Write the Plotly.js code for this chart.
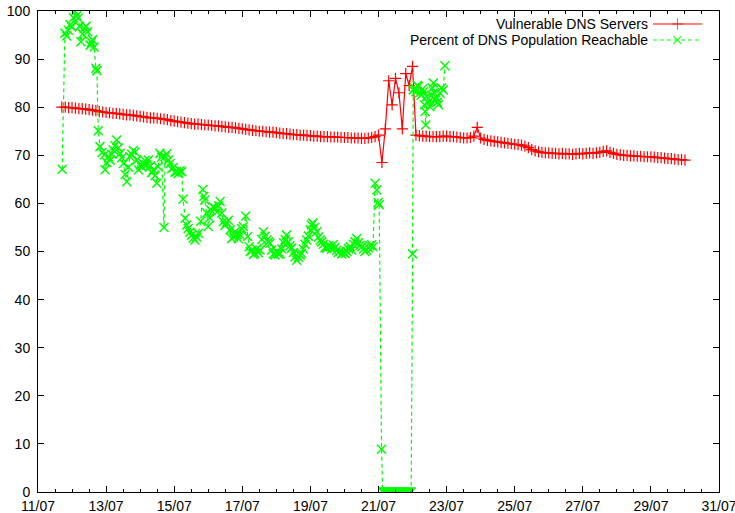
<!DOCTYPE html>
<html><head><meta charset="utf-8">
<script src="https://cdn.plot.ly/plotly-3.0.1.min.js"></script>
<style>html,body{margin:0;padding:0;background:#fff}</style>
</head><body>
<div id="chart" style="width:735px;height:513px"></div>
<script>
// X axis: day of July (fractional)
const tickDays = [11,13,15,17,19,21,23,25,27,29,31];
const tickLabels = ["11/07","13/07","15/07","17/07","19/07","21/07","23/07","25/07","27/07","29/07","31/07"];

// Vulnerable DNS Servers: sampled every 0.1 day starting 11.7
const redStart = 11.7, redStep = 0.1;
const redY = [
 80.0,80.0,79.9,79.9,
 79.8,79.7,79.7,79.6,79.5,79.4,79.3,79.1,79.0,78.9,
 78.8,78.7,78.7,78.6,78.5,78.4,78.4,78.3,78.2,78.1,
 78.0,77.9,77.8,77.8,77.7,77.6,77.5,77.4,77.2,77.1,
 77.0,76.9,76.8,76.7,76.6,76.5,76.5,76.4,76.3,76.3,
 76.2,76.1,76.1,76.0,75.9,75.8,75.8,75.7,75.6,75.5,
 75.4,75.3,75.2,75.1,75.0,75.0,74.9,74.8,74.8,74.7,
 74.6,74.5,74.5,74.4,74.3,74.3,74.2,74.2,74.1,74.1,
 74.0,74.0,73.9,73.9,73.9,73.8,73.8,73.8,73.7,73.7,
 73.7,73.6,73.6,73.6,73.5,73.5,73.6,73.7,73.9,74.2,
 68.5,75.5,85.5,80.5,86.0,83.0,75.5,87.0,84.5,88.5,
 74.2,74.1,74.0,74.0,73.9,73.9,73.9,73.9,74.0,74.0,
 73.9,73.9,73.8,73.7,73.6,73.6,73.7,74.0,75.8,73.6,
 73.3,73.1,73.0,72.9,72.8,72.7,72.6,72.5,72.4,72.3,
 72.2,72.1,71.9,71.6,71.2,70.9,70.7,70.6,70.5,70.5,
 70.4,70.4,70.3,70.4,70.3,70.3,70.2,70.3,70.4,70.3,
 70.4,70.5,70.4,70.5,70.6,70.8,70.9,70.6,70.4,70.2,
 70.1,70.0,70.0,69.9,69.9,69.8,69.8,69.7,69.7,69.7,
 69.6,69.5,69.5,69.4,69.3,69.3,69.2,69.1,69.1,69.0
];
const redX = redY.map((_, i) => +(redStart + i * redStep).toFixed(2));

// Percent of DNS Population Reachable
const greenX = [
 11.71,11.79,11.84,11.89,11.94,11.99,12.04,12.09,12.14,12.18,12.22,12.26,12.31,12.36,12.41,12.46,
 12.53,12.57,12.60,12.65,12.70,12.73,12.77,12.82,12.88,12.95,12.97,13.02,13.07,13.12,13.17,13.21,
 13.26,13.31,13.36,13.41,13.46,13.51,13.56,13.61,13.66,13.70,13.75,13.80,13.85,13.90,13.95,14.00,
 14.05,14.09,14.14,14.19,14.24,14.30,14.34,14.39,14.44,14.49,14.53,14.58,14.63,14.70,14.73,14.78,
 14.83,14.88,14.92,14.97,15.02,15.07,15.12,15.17,15.22,15.26,15.32,15.37,15.41,15.46,15.51,15.56,
 15.61,15.66,15.71,15.78,15.84,15.87,15.90,15.95,16.00,16.04,16.08,16.14,16.20,16.25,16.30,16.35,
 16.40,16.44,16.49,16.54,16.59,16.64,16.69,16.74,16.79,16.84,16.88,16.93,16.98,17.03,17.10,17.16,
 17.20,17.23,17.28,17.33,17.37,17.42,17.47,17.52,17.57,17.62,17.67,17.72,17.77,17.81,17.86,17.91,
 17.96,18.01,18.06,18.11,18.16,18.21,18.26,18.30,18.35,18.40,18.45,18.50,18.55,18.60,18.65,18.70,
 18.74,18.79,18.84,18.89,18.94,19.00,19.03,19.07,19.12,19.19,19.24,19.29,19.33,19.38,19.43,19.48,
 19.53,19.58,19.62,19.67,19.72,19.77,19.82,19.87,19.92,19.97,20.02,20.07,20.12,20.17,20.21,20.26,
 20.31,20.36,20.41,20.46,20.51,20.56,20.60,20.65,20.70,20.75,20.80,20.84,20.90,20.95,20.99,21.02,
 21.09,
 21.12,21.15,21.18,21.21,21.24,21.27,21.30,21.33,21.36,21.39,21.42,21.45,21.48,21.51,21.54,21.57,
 21.60,21.63,21.66,21.69,21.72,21.75,21.78,21.81,21.84,21.87,21.90,21.93,21.96,
 22.00,22.02,22.06,22.10,22.14,22.17,22.21,22.25,22.29,22.32,22.35,22.37,22.39,22.42,22.46,22.51,
 22.55,22.58,22.61,22.64,22.66,22.70,22.73,22.76,22.81,22.85,22.90,22.95
];
const greenY = [
 67.1,95.4,94.8,96.0,97.2,96.7,98.6,99.9,99.0,98.5,96.8,93.6,95.2,96.4,96.8,95.7,
 92.9,93.5,94.0,92.5,88.1,87.6,75.1,71.8,70.6,70.1,67.0,68.5,69.7,69.0,70.2,71.1,
 72.0,73.2,71.5,70.4,69.5,68.3,66.0,64.5,67.5,69.7,70.2,71.0,70.7,69.0,67.0,68.0,
 67.5,68.3,68.9,68.0,69.0,67.8,66.4,67.0,65.8,64.2,67.6,70.4,69.6,55.0,69.7,70.3,
 69.0,68.3,67.2,67.4,66.5,66.6,66.2,66.8,66.6,60.9,56.9,55.5,54.8,54.0,53.4,52.8,
 52.4,53.0,53.8,56.3,62.9,61.5,60.7,58.0,55.2,57.0,58.6,59.3,59.0,58.2,59.5,60.4,
 58.0,56.2,55.4,56.0,56.5,54.5,52.7,53.0,54.1,53.5,52.7,53.5,54.8,55.2,57.4,53.1,
 51.0,50.0,50.2,49.4,49.6,50.5,49.8,50.3,52.5,54.1,53.2,52.4,52.0,51.7,50.3,49.5,
 49.3,50.0,49.5,49.6,50.5,51.8,52.5,53.4,52.0,51.2,50.7,49.8,48.9,48.2,48.8,49.3,
 49.6,50.5,51.5,52.4,53.2,54.5,55.5,55.9,55.0,54.1,53.0,52.4,52.0,51.5,50.8,50.7,
 51.2,51.0,50.5,51.4,50.8,50.2,49.8,50.0,49.5,49.8,49.6,50.0,50.6,51.0,50.3,51.5,
 52.0,52.7,51.8,51.3,51.0,50.5,50.0,50.3,50.8,51.2,51.4,51.0,64.2,62.8,60.2,59.7,
 8.9,
 0,0,0,0,0,0,0,0,0,0,0,0,0,0,0,0,
 0,0,0,0,0,0,0,0,0,0,0,0,0,
 49.5,83.6,84.0,83.2,84.5,84.3,83.0,82.5,83.8,83.2,80.5,79.1,76.3,82.2,81.0,80.1,
 82.5,84.0,85.0,83.0,81.5,82.0,81.0,80.5,82.9,84.0,83.6,88.6
];

const legendNames = ["Vulnerable DNS Servers", "Percent of DNS Population Reachable"];
const RED = "#ff0000", GREEN = "#00ff00";
const font = "Liberation Sans, Arial, Helvetica, sans-serif";

const traces = [
 {x: redX, y: redY, type: "scatter", mode: "lines+markers", name: legendNames[0], showlegend: false,
  line: {color: RED, width: 1.2},
  marker: {symbol: "cross-thin", size: 8, color: RED, line: {color: RED, width: 1.2}}},
 {x: greenX, y: greenY, type: "scatter", mode: "lines+markers", name: legendNames[1], showlegend: false,
  line: {color: GREEN, width: 1.2, dash: "4px,3px"},
  marker: {symbol: "x-thin", size: 9, color: GREEN, line: {color: GREEN, width: 1.5}}},
 // legend samples (drawn gnuplot-style: text left, sample right)
 {x: [0.903, 0.939, 0.975], y: [0.973, 0.973, 0.973], xaxis: "x2", yaxis: "y2", type: "scatter",
  mode: "lines+markers", showlegend: false, hoverinfo: "skip", cliponaxis: false,
  line: {color: RED, width: 1},
  marker: {symbol: "cross-thin", size: [0, 8, 0], color: RED, line: {color: RED, width: 1}}},
 {x: [0.903, 0.939, 0.975], y: [0.9397, 0.9397, 0.9397], xaxis: "x2", yaxis: "y2", type: "scatter",
  mode: "lines+markers", showlegend: false, hoverinfo: "skip", cliponaxis: false,
  line: {color: GREEN, width: 1, dash: "4px,3px"},
  marker: {symbol: "x-thin", size: [0, 8, 0], color: GREEN, line: {color: GREEN, width: 1.5}}}
];

const layout = {
 width: 735, height: 513,
 margin: {l: 38, r: 16, t: 11, b: 21, pad: 0},
 paper_bgcolor: "#fff", plot_bgcolor: "#fff",
 showlegend: false,
 font: {family: font, size: 14, color: "#000"},
 xaxis: {
  range: [11, 31], tickmode: "array", tickvals: tickDays, ticktext: tickLabels,
  ticks: "inside", ticklen: 6, tickwidth: 1, tickcolor: "#000",
  showline: true, linecolor: "#000", linewidth: 1, mirror: "allticks",
  showgrid: false, zeroline: false, ticklabeloverflow: "allow", ticklabelstandoff: 1,
  minor: {tickmode: "linear", tick0: 11, dtick: 0.5, ticks: "inside", ticklen: 3, tickcolor: "#000", showgrid: false},
  tickfont: {family: font, size: 14, color: "#000"}
 },
 yaxis: {
  range: [0, 100], tickmode: "linear", tick0: 0, dtick: 10,
  ticks: "inside", ticklen: 6, tickwidth: 1, tickcolor: "#000",
  showline: true, linecolor: "#000", linewidth: 1, mirror: "allticks",
  showgrid: false, zeroline: false, ticklabelstandoff: 4,
  tickfont: {family: font, size: 14, color: "#000"}
 },
 xaxis2: {overlaying: "x", range: [0, 1], visible: false, fixedrange: true},
 yaxis2: {overlaying: "y", range: [0, 1], visible: false, fixedrange: true},
 annotations: [
  {xref: "paper", yref: "paper", x: 0.8987, y: 0.973, xanchor: "right", yanchor: "middle",
   text: legendNames[0], showarrow: false, font: {family: font, size: 14, color: "#000"}},
  {xref: "paper", yref: "paper", x: 0.8987, y: 0.9397, xanchor: "right", yanchor: "middle",
   text: legendNames[1], showarrow: false, font: {family: font, size: 14, color: "#000"}}
 ]
};

Plotly.newPlot("chart", traces, layout, {displayModeBar: false, staticPlot: true});
</script>
</body></html>
